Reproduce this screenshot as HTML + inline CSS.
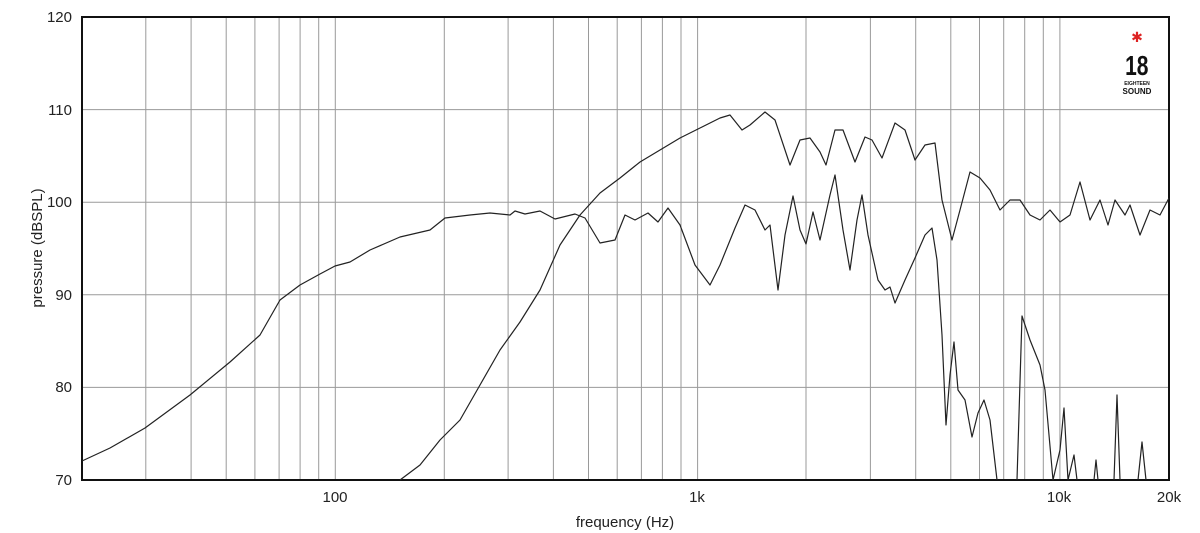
<!DOCTYPE html>
<html><head><meta charset="utf-8"><style>
body{margin:0;background:#fff;}
svg{display:block;font-family:"Liberation Sans",sans-serif;}
</style></head><body>
<svg width="1200" height="533" viewBox="0 0 1200 533" xmlns="http://www.w3.org/2000/svg">
<g stroke="#9a9a9a" stroke-width="1">
<line x1="145.8" y1="17" x2="145.8" y2="480"/><line x1="191.1" y1="17" x2="191.1" y2="480"/>
<line x1="226.2" y1="17" x2="226.2" y2="480"/><line x1="254.9" y1="17" x2="254.9" y2="480"/>
<line x1="279.1" y1="17" x2="279.1" y2="480"/><line x1="300.1" y1="17" x2="300.1" y2="480"/>
<line x1="318.7" y1="17" x2="318.7" y2="480"/><line x1="335.3" y1="17" x2="335.3" y2="480"/>
<line x1="444.3" y1="17" x2="444.3" y2="480"/><line x1="508.1" y1="17" x2="508.1" y2="480"/>
<line x1="553.4" y1="17" x2="553.4" y2="480"/><line x1="588.5" y1="17" x2="588.5" y2="480"/>
<line x1="617.2" y1="17" x2="617.2" y2="480"/><line x1="641.4" y1="17" x2="641.4" y2="480"/>
<line x1="662.4" y1="17" x2="662.4" y2="480"/><line x1="681" y1="17" x2="681" y2="480"/>
<line x1="697.6" y1="17" x2="697.6" y2="480"/><line x1="806" y1="17" x2="806" y2="480"/>
<line x1="870.4" y1="17" x2="870.4" y2="480"/><line x1="915.7" y1="17" x2="915.7" y2="480"/>
<line x1="950.8" y1="17" x2="950.8" y2="480"/><line x1="979.5" y1="17" x2="979.5" y2="480"/>
<line x1="1003.7" y1="17" x2="1003.7" y2="480"/><line x1="1024.7" y1="17" x2="1024.7" y2="480"/>
<line x1="1043.3" y1="17" x2="1043.3" y2="480"/><line x1="1059.9" y1="17" x2="1059.9" y2="480"/>
<line x1="82" y1="109.6" x2="1169" y2="109.6"/>
<line x1="82" y1="202.2" x2="1169" y2="202.2"/>
<line x1="82" y1="294.8" x2="1169" y2="294.8"/>
<line x1="82" y1="387.4" x2="1169" y2="387.4"/>
</g>
<rect x="82" y="17" width="1087" height="463" fill="none" stroke="#111" stroke-width="2"/>
<g font-size="15" fill="#222" text-anchor="end">
<text x="72" y="22">120</text><text x="72" y="115">110</text><text x="72" y="207">100</text>
<text x="72" y="300">90</text><text x="72" y="392">80</text><text x="72" y="485">70</text>
</g>
<g font-size="15" fill="#222" text-anchor="middle">
<text x="335" y="502">100</text><text x="697" y="502">1k</text><text x="1059" y="502">10k</text><text x="1169" y="502">20k</text>
<text x="625" y="527">frequency (Hz)</text>
</g>
<text x="42" y="248" font-size="15" fill="#222" text-anchor="middle" transform="rotate(-90 42 248)">pressure (dBSPL)</text>
<g fill="none" stroke="#222" stroke-width="1.2" stroke-linejoin="round">
<polyline points="82,461 110,448 145,428 190,395 230,362 260,335 280,300 300,285 320,274 335,266 350,262 370,250 400,237 430,230 445,218 470,215 490,213 510,215 515,211 525,214 540,211 555,219 575,214 585,218 600,243 615,240 625,215 635,220 648,213 658,222 668,208 680,225 695,265 710,285 720,265 735,228 745,205 755,210 765,230 770,225 778,290 785,235 793,196 800,230 806,244 813,212 820,240 830,195 835,175 843,230 850,270 857,220 862,195 868,235 878,280 885,290 890,287 895,303 905,280 915,258 925,235 932,228 937,260 942,335 946,425 950,375 954,342 958,390 965,400 972,437 978,413 984,400 990,420 997,480"/>
<polyline points="1017,480 1022,316 1030,340 1040,365 1045,390 1053,480 1060,450 1064,408 1068,480 1074,455 1077,480"/>
<polyline points="1094,480 1096,460 1098,480"/>
<polyline points="1114,480 1117,395 1120,480"/>
<polyline points="1138,480 1142,442 1146,480"/>
<polyline points="400,480 420,465 440,440 460,420 480,385 500,350 520,322 540,290 560,245 580,215 600,193 620,178 640,162 660,150 680,138 700,128 720,118 730,115 742,130 750,125 765,112 775,120 790,165 800,140 810,138 820,152 826,165 835,130 843,130 855,162 865,137 872,140 882,158 895,123 905,130 915,160 925,145 935,143 942,200 952,240 960,210 970,172 980,178 990,190 1000,210 1010,200 1020,200 1030,215 1040,220 1050,210 1060,222 1070,215 1080,182 1090,220 1100,200 1108,225 1115,200 1125,215 1130,205 1140,235 1150,210 1160,215 1169,198"/>
</g>
<g text-anchor="middle" fill="#111">
<text x="1137" y="42" font-size="14" fill="#d22">✱</text>
<text x="1137" y="75" font-size="28" font-weight="bold" transform="translate(284 0) scale(0.75 1)">18</text>
<text x="1137" y="85" font-size="5" font-weight="bold">EIGHTEEN</text>
<text x="1137" y="94" font-size="8" font-weight="bold">SOUND</text>
</g>
</svg>
</body></html>
